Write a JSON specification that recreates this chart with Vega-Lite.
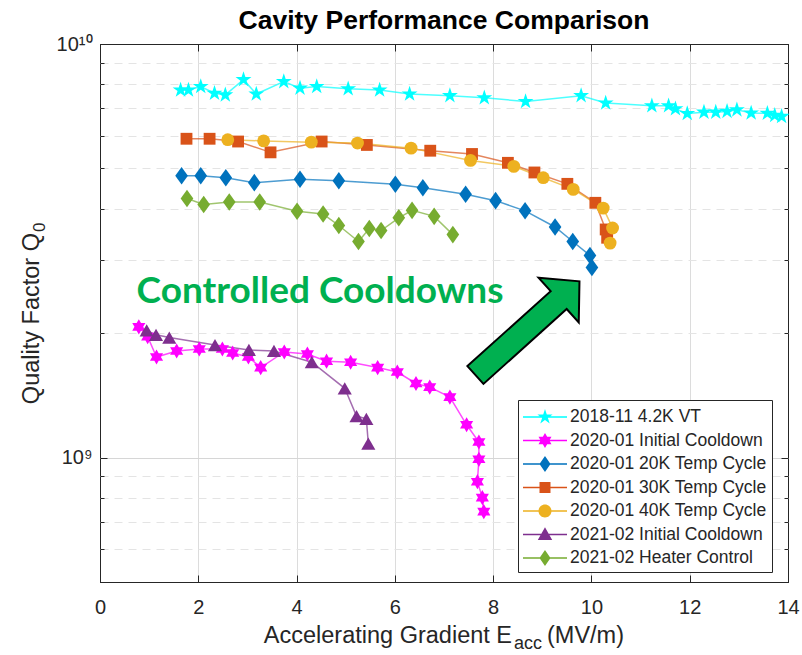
{
  "$schema": "https://vega.github.io/schema/vega-lite/v6.json",
  "width": 688,
  "height": 538,
  "autosize": {"type": "none"},
  "padding": {"left": 100, "top": 44, "right": 14, "bottom": 73},
  "background": "white",
  "title": {
    "text": "Cavity Performance Comparison",
    "font": "Liberation Sans",
    "fontSize": 26.5,
    "fontWeight": "bold",
    "color": "#000000",
    "anchor": "middle",
    "frame": "group",
    "baseline": "bottom",
    "offset": -27
  },
  "config": {
    "view": {"stroke": "#262626", "strokeWidth": 1},
    "font": "Liberation Sans"
  },
  "data": {
    "values": [
      {"s": "2018-11 4.2K VT", "x": 1.64, "q": 7.74e9},
      {"s": "2018-11 4.2K VT", "x": 1.80, "q": 7.74e9},
      {"s": "2018-11 4.2K VT", "x": 2.05, "q": 7.89e9},
      {"s": "2018-11 4.2K VT", "x": 2.33, "q": 7.60e9},
      {"s": "2018-11 4.2K VT", "x": 2.55, "q": 7.53e9},
      {"s": "2018-11 4.2K VT", "x": 2.92, "q": 8.20e9},
      {"s": "2018-11 4.2K VT", "x": 3.18, "q": 7.57e9},
      {"s": "2018-11 4.2K VT", "x": 3.74, "q": 8.11e9},
      {"s": "2018-11 4.2K VT", "x": 4.07, "q": 7.82e9},
      {"s": "2018-11 4.2K VT", "x": 4.41, "q": 7.89e9},
      {"s": "2018-11 4.2K VT", "x": 5.05, "q": 7.79e9},
      {"s": "2018-11 4.2K VT", "x": 5.69, "q": 7.74e9},
      {"s": "2018-11 4.2K VT", "x": 6.30, "q": 7.57e9},
      {"s": "2018-11 4.2K VT", "x": 7.12, "q": 7.50e9},
      {"s": "2018-11 4.2K VT", "x": 7.82, "q": 7.41e9},
      {"s": "2018-11 4.2K VT", "x": 8.66, "q": 7.26e9},
      {"s": "2018-11 4.2K VT", "x": 9.79, "q": 7.50e9},
      {"s": "2018-11 4.2K VT", "x": 10.29, "q": 7.20e9},
      {"s": "2018-11 4.2K VT", "x": 11.23, "q": 7.09e9},
      {"s": "2018-11 4.2K VT", "x": 11.57, "q": 7.09e9},
      {"s": "2018-11 4.2K VT", "x": 11.71, "q": 6.97e9},
      {"s": "2018-11 4.2K VT", "x": 11.95, "q": 6.79e9},
      {"s": "2018-11 4.2K VT", "x": 12.29, "q": 6.84e9},
      {"s": "2018-11 4.2K VT", "x": 12.53, "q": 6.84e9},
      {"s": "2018-11 4.2K VT", "x": 12.76, "q": 6.87e9},
      {"s": "2018-11 4.2K VT", "x": 12.96, "q": 6.93e9},
      {"s": "2018-11 4.2K VT", "x": 13.25, "q": 6.81e9},
      {"s": "2018-11 4.2K VT", "x": 13.58, "q": 6.80e9},
      {"s": "2018-11 4.2K VT", "x": 13.73, "q": 6.72e9},
      {"s": "2018-11 4.2K VT", "x": 13.87, "q": 6.68e9},

      {"s": "2020-01 Initial Cooldown", "x": 0.79, "q": 2.07e9},
      {"s": "2020-01 Initial Cooldown", "x": 0.97, "q": 1.96e9},
      {"s": "2020-01 Initial Cooldown", "x": 1.15, "q": 1.75e9},
      {"s": "2020-01 Initial Cooldown", "x": 1.56, "q": 1.81e9},
      {"s": "2020-01 Initial Cooldown", "x": 2.02, "q": 1.83e9},
      {"s": "2020-01 Initial Cooldown", "x": 2.49, "q": 1.83e9},
      {"s": "2020-01 Initial Cooldown", "x": 2.70, "q": 1.79e9},
      {"s": "2020-01 Initial Cooldown", "x": 3.02, "q": 1.75e9},
      {"s": "2020-01 Initial Cooldown", "x": 3.27, "q": 1.65e9},
      {"s": "2020-01 Initial Cooldown", "x": 3.75, "q": 1.80e9},
      {"s": "2020-01 Initial Cooldown", "x": 4.22, "q": 1.78e9},
      {"s": "2020-01 Initial Cooldown", "x": 4.61, "q": 1.71e9},
      {"s": "2020-01 Initial Cooldown", "x": 5.10, "q": 1.70e9},
      {"s": "2020-01 Initial Cooldown", "x": 5.65, "q": 1.65e9},
      {"s": "2020-01 Initial Cooldown", "x": 6.05, "q": 1.61e9},
      {"s": "2020-01 Initial Cooldown", "x": 6.43, "q": 1.51e9},
      {"s": "2020-01 Initial Cooldown", "x": 6.71, "q": 1.48e9},
      {"s": "2020-01 Initial Cooldown", "x": 7.12, "q": 1.40e9},
      {"s": "2020-01 Initial Cooldown", "x": 7.46, "q": 1.20e9},
      {"s": "2020-01 Initial Cooldown", "x": 7.71, "q": 1.09e9},
      {"s": "2020-01 Initial Cooldown", "x": 7.71, "q": 0.99e9},
      {"s": "2020-01 Initial Cooldown", "x": 7.68, "q": 0.874e9},
      {"s": "2020-01 Initial Cooldown", "x": 7.78, "q": 0.80e9},
      {"s": "2020-01 Initial Cooldown", "x": 7.81, "q": 0.74e9},

      {"s": "2020-01 20K Temp Cycle", "x": 1.66, "q": 4.80e9},
      {"s": "2020-01 20K Temp Cycle", "x": 2.05, "q": 4.80e9},
      {"s": "2020-01 20K Temp Cycle", "x": 2.56, "q": 4.75e9},
      {"s": "2020-01 20K Temp Cycle", "x": 3.14, "q": 4.62e9},
      {"s": "2020-01 20K Temp Cycle", "x": 4.07, "q": 4.71e9},
      {"s": "2020-01 20K Temp Cycle", "x": 4.86, "q": 4.67e9},
      {"s": "2020-01 20K Temp Cycle", "x": 6.01, "q": 4.58e9},
      {"s": "2020-01 20K Temp Cycle", "x": 6.57, "q": 4.49e9},
      {"s": "2020-01 20K Temp Cycle", "x": 7.44, "q": 4.33e9},
      {"s": "2020-01 20K Temp Cycle", "x": 8.05, "q": 4.18e9},
      {"s": "2020-01 20K Temp Cycle", "x": 8.65, "q": 3.95e9},
      {"s": "2020-01 20K Temp Cycle", "x": 9.26, "q": 3.61e9},
      {"s": "2020-01 20K Temp Cycle", "x": 9.62, "q": 3.33e9},
      {"s": "2020-01 20K Temp Cycle", "x": 9.97, "q": 3.08e9},
      {"s": "2020-01 20K Temp Cycle", "x": 10.01, "q": 2.88e9},

      {"s": "2020-01 30K Temp Cycle", "x": 1.76, "q": 5.90e9},
      {"s": "2020-01 30K Temp Cycle", "x": 2.23, "q": 5.90e9},
      {"s": "2020-01 30K Temp Cycle", "x": 2.81, "q": 5.81e9},
      {"s": "2020-01 30K Temp Cycle", "x": 3.47, "q": 5.47e9},
      {"s": "2020-01 30K Temp Cycle", "x": 4.51, "q": 5.81e9},
      {"s": "2020-01 30K Temp Cycle", "x": 5.43, "q": 5.70e9},
      {"s": "2020-01 30K Temp Cycle", "x": 6.72, "q": 5.52e9},
      {"s": "2020-01 30K Temp Cycle", "x": 7.57, "q": 5.42e9},
      {"s": "2020-01 30K Temp Cycle", "x": 8.30, "q": 5.16e9},
      {"s": "2020-01 30K Temp Cycle", "x": 8.84, "q": 4.89e9},
      {"s": "2020-01 30K Temp Cycle", "x": 9.51, "q": 4.59e9},
      {"s": "2020-01 30K Temp Cycle", "x": 10.08, "q": 4.13e9},
      {"s": "2020-01 30K Temp Cycle", "x": 10.29, "q": 3.56e9},
      {"s": "2020-01 30K Temp Cycle", "x": 10.32, "q": 3.40e9},

      {"s": "2020-01 40K Temp Cycle", "x": 2.60, "q": 5.87e9},
      {"s": "2020-01 40K Temp Cycle", "x": 3.33, "q": 5.83e9},
      {"s": "2020-01 40K Temp Cycle", "x": 4.30, "q": 5.79e9},
      {"s": "2020-01 40K Temp Cycle", "x": 5.24, "q": 5.76e9},
      {"s": "2020-01 40K Temp Cycle", "x": 6.33, "q": 5.60e9},
      {"s": "2020-01 40K Temp Cycle", "x": 7.54, "q": 5.23e9},
      {"s": "2020-01 40K Temp Cycle", "x": 8.42, "q": 5.06e9},
      {"s": "2020-01 40K Temp Cycle", "x": 9.02, "q": 4.75e9},
      {"s": "2020-01 40K Temp Cycle", "x": 9.63, "q": 4.45e9},
      {"s": "2020-01 40K Temp Cycle", "x": 10.24, "q": 4.01e9},
      {"s": "2020-01 40K Temp Cycle", "x": 10.43, "q": 3.59e9},
      {"s": "2020-01 40K Temp Cycle", "x": 10.38, "q": 3.30e9},

      {"s": "2021-02 Initial Cooldown", "x": 0.95, "q": 2.03e9},
      {"s": "2021-02 Initial Cooldown", "x": 1.14, "q": 1.98e9},
      {"s": "2021-02 Initial Cooldown", "x": 1.41, "q": 1.95e9},
      {"s": "2021-02 Initial Cooldown", "x": 2.34, "q": 1.87e9},
      {"s": "2021-02 Initial Cooldown", "x": 3.03, "q": 1.82e9},
      {"s": "2021-02 Initial Cooldown", "x": 3.54, "q": 1.81e9},
      {"s": "2021-02 Initial Cooldown", "x": 4.31, "q": 1.70e9},
      {"s": "2021-02 Initial Cooldown", "x": 4.98, "q": 1.47e9},
      {"s": "2021-02 Initial Cooldown", "x": 5.22, "q": 1.26e9},
      {"s": "2021-02 Initial Cooldown", "x": 5.42, "q": 1.24e9},
      {"s": "2021-02 Initial Cooldown", "x": 5.46, "q": 1.08e9},

      {"s": "2021-02 Heater Control", "x": 1.77, "q": 4.23e9},
      {"s": "2021-02 Heater Control", "x": 2.11, "q": 4.09e9},
      {"s": "2021-02 Heater Control", "x": 2.63, "q": 4.15e9},
      {"s": "2021-02 Heater Control", "x": 3.25, "q": 4.15e9},
      {"s": "2021-02 Heater Control", "x": 4.01, "q": 3.94e9},
      {"s": "2021-02 Heater Control", "x": 4.54, "q": 3.88e9},
      {"s": "2021-02 Heater Control", "x": 4.86, "q": 3.64e9},
      {"s": "2021-02 Heater Control", "x": 5.26, "q": 3.33e9},
      {"s": "2021-02 Heater Control", "x": 5.48, "q": 3.58e9},
      {"s": "2021-02 Heater Control", "x": 5.72, "q": 3.54e9},
      {"s": "2021-02 Heater Control", "x": 6.08, "q": 3.80e9},
      {"s": "2021-02 Heater Control", "x": 6.35, "q": 3.96e9},
      {"s": "2021-02 Heater Control", "x": 6.80, "q": 3.83e9},
      {"s": "2021-02 Heater Control", "x": 7.18, "q": 3.46e9}
    ]
  },
  "layer": [
    {
      "mark": {"type": "line", "strokeWidth": 1.5, "opacity": 0.7},
      "encoding": {
        "x": {
          "field": "x", "type": "quantitative",
          "scale": {"domain": [0, 14], "nice": false, "zero": false},
          "axis": {
            "orient": "bottom", "title": null,
            "values": [0, 2, 4, 6, 8, 10, 12, 14],
            "grid": true,
            "gridColor": {"condition": {"test": "datum.value == 0 || datum.value == 14", "value": "#262626"}, "value": "#dcdcdc"},
            "domain": false,
            "ticks": true, "tickSize": -7, "tickColor": "#262626", "tickWidth": 1,
            "labelFont": "Liberation Sans", "labelFontSize": 20, "labelColor": "#262626",
            "labelPadding": 22, "labelFlush": false, "labelOverlap": false
          }
        },
        "y": {
          "field": "q", "type": "quantitative",
          "scale": {"type": "log", "domain": [5e8, 1e10], "nice": false},
          "axis": {
            "orient": "left", "title": null,
            "values": [5e8, 6e8, 7e8, 8e8, 9e8, 1e9, 2e9, 3e9, 4e9, 5e9, 6e9, 7e9, 8e9, 9e9, 1e10],
            "grid": true,
            "gridColor": {"condition": [
              {"test": "datum.value == 5e8 || datum.value == 1e10", "value": "#262626"},
              {"test": "datum.value == 1e9", "value": "#d6d6d6"}
            ], "value": "#e4e4e4"},
            "gridDash": {"condition": {"test": "datum.value == 1e9 || datum.value == 5e8 || datum.value == 1e10", "value": []}, "value": [8, 6]},
            "domain": false,
            "ticks": true,
            "tickSize": {"condition": {"test": "datum.value == 1e9 || datum.value == 1e10", "value": -7}, "value": -4},
            "tickColor": "#262626", "tickWidth": 1,
            "labelExpr": "datum.value == 1e10 ? '10¹⁰' : datum.value == 1e9 ? '10⁹' : ''",
            "labelFont": "Liberation Sans", "labelFontSize": 20, "labelColor": "#262626",
            "labelPadding": 15, "labelFlush": false, "labelOverlap": false
          }
        },
        "stroke": {
          "field": "s", "type": "nominal",
          "scale": {
            "domain": ["2018-11 4.2K VT", "2020-01 Initial Cooldown", "2020-01 20K Temp Cycle", "2020-01 30K Temp Cycle", "2020-01 40K Temp Cycle", "2021-02 Initial Cooldown", "2021-02 Heater Control"],
            "range": ["#00ffff", "#ff00ff", "#0072bd", "#d95319", "#edb120", "#7e2f8e", "#77ac30"]
          },
          "legend": {
            "orient": "none", "legendX": 418, "legendY": 356, "title": null,
            "symbolSize": 576, "symbolStrokeWidth": 0, "symbolOpacity": 1,
            "labelFont": "Liberation Sans", "labelFontSize": 17.5, "labelColor": "#262626", "labelOffset": 23, "labelLimit": 400,
            "rowPadding": 2.5, "padding": 5, "strokeColor": "#262626", "fillColor": "#ffffff", "cornerRadius": 0
          }
        },
        "order": {"value": null}
      }
    },
    {
      "transform": [{"filter": "datum.s == '2018-11 4.2K VT'"}],
      "mark": {"type": "point", "filled": true, "opacity": 1, "strokeWidth": 0, "color": "#00ffff", "size": 280,
               "shape": "M0,-1L0.2245,-0.309L0.951,-0.309L0.363,0.118L0.588,0.809L0,0.382L-0.588,0.809L-0.363,0.118L-0.951,-0.309L-0.2245,-0.309Z"},
      "encoding": {
        "x": {"field": "x", "type": "quantitative", "scale": {"domain": [0, 14], "nice": false, "zero": false},
              "axis": {"orient": "top", "title": null, "values": [0, 2, 4, 6, 8, 10, 12, 14], "labels": false, "grid": false, "domain": false, "tickSize": -7, "tickColor": "#262626", "tickWidth": 1}},
        "y": {"field": "q", "type": "quantitative", "scale": {"type": "log", "domain": [5e8, 1e10], "nice": false},
              "axis": {"orient": "right", "title": null, "values": [5e8, 6e8, 7e8, 8e8, 9e8, 1e9, 2e9, 3e9, 4e9, 5e9, 6e9, 7e9, 8e9, 9e9, 1e10], "labels": false, "grid": false, "domain": false,
                       "tickSize": {"condition": {"test": "datum.value == 1e9 || datum.value == 1e10", "value": -7}, "value": -4}, "tickColor": "#262626", "tickWidth": 1}}
      }
    },
    {
      "transform": [{"filter": "datum.s == '2020-01 Initial Cooldown'"}],
      "mark": {"type": "point", "filled": true, "opacity": 1, "strokeWidth": 0, "color": "#ff00ff", "size": 230,
               "shape": "M0,-1L0.2887,-0.5L0.866,-0.5L0.577,0L0.866,0.5L0.2887,0.5L0,1L-0.2887,0.5L-0.866,0.5L-0.577,0L-0.866,-0.5L-0.2887,-0.5Z"},
      "encoding": {
        "x": {"field": "x", "type": "quantitative", "scale": {"domain": [0, 14], "nice": false, "zero": false}, "axis": null},
        "y": {"field": "q", "type": "quantitative", "scale": {"type": "log", "domain": [5e8, 1e10], "nice": false}, "axis": null}
      }
    },
    {
      "transform": [{"filter": "datum.s == '2020-01 20K Temp Cycle'"}],
      "mark": {"type": "point", "filled": true, "opacity": 1, "strokeWidth": 0, "color": "#0072bd", "size": 310,
               "shape": "M0,-1L0.72,0L0,1L-0.72,0Z"},
      "encoding": {
        "x": {"field": "x", "type": "quantitative", "scale": {"domain": [0, 14], "nice": false, "zero": false}, "axis": null},
        "y": {"field": "q", "type": "quantitative", "scale": {"type": "log", "domain": [5e8, 1e10], "nice": false}, "axis": null}
      }
    },
    {
      "transform": [{"filter": "datum.s == '2020-01 30K Temp Cycle'"}],
      "mark": {"type": "point", "filled": true, "opacity": 1, "strokeWidth": 0, "color": "#d95319", "size": 140, "shape": "square"},
      "encoding": {
        "x": {"field": "x", "type": "quantitative", "scale": {"domain": [0, 14], "nice": false, "zero": false}, "axis": null},
        "y": {"field": "q", "type": "quantitative", "scale": {"type": "log", "domain": [5e8, 1e10], "nice": false}, "axis": null}
      }
    },
    {
      "transform": [{"filter": "datum.s == '2020-01 40K Temp Cycle'"}],
      "mark": {"type": "point", "filled": true, "opacity": 1, "strokeWidth": 0, "color": "#edb120", "size": 165, "shape": "circle"},
      "encoding": {
        "x": {"field": "x", "type": "quantitative", "scale": {"domain": [0, 14], "nice": false, "zero": false}, "axis": null},
        "y": {"field": "q", "type": "quantitative", "scale": {"type": "log", "domain": [5e8, 1e10], "nice": false}, "axis": null}
      }
    },
    {
      "transform": [{"filter": "datum.s == '2021-02 Initial Cooldown'"}],
      "mark": {"type": "point", "filled": true, "opacity": 1, "strokeWidth": 0, "color": "#7e2f8e", "size": 200, "shape": "triangle-up"},
      "encoding": {
        "x": {"field": "x", "type": "quantitative", "scale": {"domain": [0, 14], "nice": false, "zero": false}, "axis": null},
        "y": {"field": "q", "type": "quantitative", "scale": {"type": "log", "domain": [5e8, 1e10], "nice": false}, "axis": null}
      }
    },
    {
      "transform": [{"filter": "datum.s == '2021-02 Heater Control'"}],
      "mark": {"type": "point", "filled": true, "opacity": 1, "strokeWidth": 0, "color": "#77ac30", "size": 310,
               "shape": "M0,-1L0.72,0L0,1L-0.72,0Z"},
      "encoding": {
        "x": {"field": "x", "type": "quantitative", "scale": {"domain": [0, 14], "nice": false, "zero": false}, "axis": null},
        "y": {"field": "q", "type": "quantitative", "scale": {"type": "log", "domain": [5e8, 1e10], "nice": false}, "axis": null}
      }
    },
    {
      "mark": {"type": "point", "filled": true, "opacity": 0},
      "encoding": {
        "x": {"field": "x", "type": "quantitative", "scale": {"domain": [0, 14], "nice": false, "zero": false}, "axis": null},
        "y": {"field": "q", "type": "quantitative", "scale": {"type": "log", "domain": [5e8, 1e10], "nice": false}, "axis": null},
        "color": {
          "field": "s", "type": "nominal",
          "scale": {
            "domain": ["2018-11 4.2K VT", "2020-01 Initial Cooldown", "2020-01 20K Temp Cycle", "2020-01 30K Temp Cycle", "2020-01 40K Temp Cycle", "2021-02 Initial Cooldown", "2021-02 Heater Control"],
            "range": ["#00ffff", "#ff00ff", "#0072bd", "#d95319", "#edb120", "#7e2f8e", "#77ac30"]
          },
          "legend": {
            "orient": "none", "legendX": 418, "legendY": 356, "title": null,
            "symbolSize": 576, "symbolStrokeWidth": 0, "symbolOpacity": 1,
            "labelFont": "Liberation Sans", "labelFontSize": 17.5, "labelColor": "#262626", "labelOffset": 23, "labelLimit": 400,
            "rowPadding": 2.5, "padding": 5, "strokeColor": "#262626", "fillColor": "#ffffff", "cornerRadius": 0
          }
        },
        "shape": {
          "field": "s", "type": "nominal",
          "scale": {
            "domain": ["2018-11 4.2K VT", "2020-01 Initial Cooldown", "2020-01 20K Temp Cycle", "2020-01 30K Temp Cycle", "2020-01 40K Temp Cycle", "2021-02 Initial Cooldown", "2021-02 Heater Control"],
            "range": [
              "M-1,-0.0625H2.667V0.0625H-1ZM0.833,-0.667L0.983,-0.206L1.467,-0.206L1.076,0.079L1.225,0.540L0.833,0.255L0.441,0.540L0.591,0.079L0.199,-0.206L0.683,-0.206Z",
              "M-1,-0.0625H2.667V0.0625H-1ZM0.833,-0.625L1.013,-0.3125L1.374,-0.3125L1.194,0L1.374,0.3125L1.013,0.3125L0.833,0.625L0.653,0.3125L0.292,0.3125L0.472,0L0.292,-0.3125L0.653,-0.3125Z",
              "M-1,-0.0625H2.667V0.0625H-1ZM0.833,-0.667L1.291,0L0.833,0.667L0.375,0Z",
              "M-1,-0.0625H2.667V0.0625H-1ZM0.375,-0.458H1.291V0.458H0.375Z",
              "M-1,-0.0625H2.667V0.0625H-1ZM0.291,0A0.542,0.542 0 1,1 1.375,0A0.542,0.542 0 1,1 0.291,0Z",
              "M-1,-0.0625H2.667V0.0625H-1ZM0.833,-0.6L1.433,0.45L0.233,0.45Z",
              "M-1,-0.0625H2.667V0.0625H-1ZM0.833,-0.667L1.291,0L0.833,0.667L0.375,0Z"
            ]
          },
          "legend": {
            "orient": "none", "legendX": 418, "legendY": 356, "title": null,
            "symbolSize": 576, "symbolStrokeWidth": 0, "symbolOpacity": 1,
            "labelFont": "Liberation Sans", "labelFontSize": 17.5, "labelColor": "#262626", "labelOffset": 23, "labelLimit": 400,
            "rowPadding": 2.5, "padding": 5, "strokeColor": "#262626", "fillColor": "#ffffff", "cornerRadius": 0
          }
        }
      }
    },
    {
      "data": {"values": [{}]},
      "mark": {"type": "point", "filled": true, "opacity": 1, "fill": "#00b050", "stroke": "#000000", "strokeWidth": 2,
               "size": 19600, "angle": 318,
               "shape": "M-1,-0.171L0.6,-0.171L0.6,-0.429L1,0L0.6,0.429L0.6,0.171L-1,0.171Z"},
      "encoding": {
        "x": {"datum": 8.698, "type": "quantitative", "scale": {"domain": [0, 14], "nice": false, "zero": false}, "axis": null},
        "y": {"datum": 2.055e9, "type": "quantitative", "scale": {"type": "log", "domain": [5e8, 1e10], "nice": false}, "axis": null}
      }
    },
    {
      "data": {"values": [{}]},
      "mark": {"type": "text", "text": "Controlled Cooldowns", "font": "Lato", "fontWeight": "bold", "fontSize": 37,
               "color": "#00b050", "align": "center", "baseline": "alphabetic"},
      "encoding": {
        "x": {"datum": 4.477, "type": "quantitative", "scale": {"domain": [0, 14], "nice": false, "zero": false}, "axis": null},
        "y": {"datum": 2.36e9, "type": "quantitative", "scale": {"type": "log", "domain": [5e8, 1e10], "nice": false}, "axis": null}
      }
    },
    {
      "data": {"values": [{}]},
      "mark": {"type": "text", "text": "Accelerating Gradient E", "font": "Liberation Sans", "fontSize": 23.5,
               "color": "#262626", "align": "right", "baseline": "alphabetic", "dy": 61},
      "encoding": {
        "x": {"datum": 8.384, "type": "quantitative", "scale": {"domain": [0, 14], "nice": false, "zero": false}, "axis": null},
        "y": {"datum": 5e8, "type": "quantitative", "scale": {"type": "log", "domain": [5e8, 1e10], "nice": false}, "axis": null}
      }
    },
    {
      "data": {"values": [{}]},
      "mark": {"type": "text", "text": "acc", "font": "Liberation Sans", "fontSize": 18,
               "color": "#262626", "align": "left", "baseline": "alphabetic", "dy": 67},
      "encoding": {
        "x": {"datum": 8.425, "type": "quantitative", "scale": {"domain": [0, 14], "nice": false, "zero": false}, "axis": null},
        "y": {"datum": 5e8, "type": "quantitative", "scale": {"type": "log", "domain": [5e8, 1e10], "nice": false}, "axis": null}
      }
    },
    {
      "data": {"values": [{}]},
      "mark": {"type": "text", "text": "(MV/m)", "font": "Liberation Sans", "fontSize": 23.5,
               "color": "#262626", "align": "left", "baseline": "alphabetic", "dy": 61},
      "encoding": {
        "x": {"datum": 9.096, "type": "quantitative", "scale": {"domain": [0, 14], "nice": false, "zero": false}, "axis": null},
        "y": {"datum": 5e8, "type": "quantitative", "scale": {"type": "log", "domain": [5e8, 1e10], "nice": false}, "axis": null}
      }
    },
    {
      "data": {"values": [{}]},
      "mark": {"type": "text", "text": "Quality Factor Q", "font": "Liberation Sans", "fontSize": 23.5,
               "color": "#262626", "align": "right", "baseline": "alphabetic", "angle": 270, "dy": -61},
      "encoding": {
        "x": {"datum": 0, "type": "quantitative", "scale": {"domain": [0, 14], "nice": false, "zero": false}, "axis": null},
        "y": {"datum": 3.49e9, "type": "quantitative", "scale": {"type": "log", "domain": [5e8, 1e10], "nice": false}, "axis": null}
      }
    },
    {
      "data": {"values": [{}]},
      "mark": {"type": "text", "text": "0", "font": "Liberation Sans", "fontSize": 17,
               "color": "#262626", "align": "left", "baseline": "alphabetic", "angle": 270, "dx": 1, "dy": -55},
      "encoding": {
        "x": {"datum": 0, "type": "quantitative", "scale": {"domain": [0, 14], "nice": false, "zero": false}, "axis": null},
        "y": {"datum": 3.49e9, "type": "quantitative", "scale": {"type": "log", "domain": [5e8, 1e10], "nice": false}, "axis": null}
      }
    }
  ],
  "resolve": {"axis": {"x": "independent", "y": "independent"}}
}
